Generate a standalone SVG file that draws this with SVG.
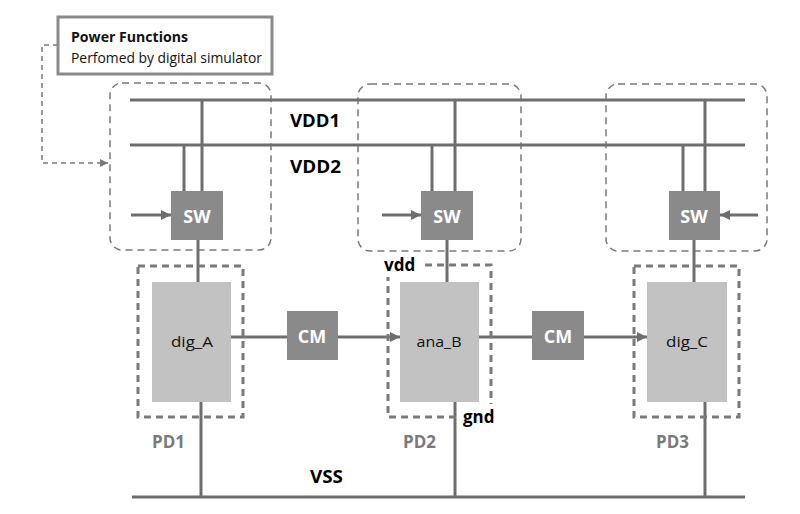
<svg xmlns="http://www.w3.org/2000/svg" width="800" height="514" viewBox="0 0 800 514">
<style>
  .wire{stroke:#6e6e6e;stroke-width:3;fill:none}
  .sig{stroke:#6e6e6e;stroke-width:3;fill:none}
  .dom{stroke:#7a7a7a;stroke-width:1.5;stroke-dasharray:7 5;fill:none}
  .pd{stroke:#7a7a7a;stroke-width:3;stroke-dasharray:7 5;fill:none}
  .ctl{fill:#8a8a8a}
  .blk{fill:#c2c2c2}
  .ctxt{font-family:"Open Sans","Liberation Sans",sans-serif;font-weight:bold;font-size:18px;fill:#ffffff;text-anchor:middle}
  .btxt{font-family:"Open Sans","Liberation Sans",sans-serif;font-size:15px;fill:#111;text-anchor:middle}
  .bus{font-family:"Open Sans","Liberation Sans",sans-serif;font-weight:bold;font-size:18px;fill:#000}
  .pdl{font-family:"Open Sans","Liberation Sans",sans-serif;font-weight:bold;font-size:17px;fill:#7a7a7a}
  .pin{font-family:"Open Sans","Liberation Sans",sans-serif;font-weight:bold;font-size:17px;fill:#000}
</style>
<defs>
  <marker id="arr" viewBox="0 0 10 10" refX="10" refY="5" markerWidth="10" markerHeight="10" markerUnits="userSpaceOnUse" orient="auto">
    <path d="M0,0 L10,5 L0,10 z" fill="#6e6e6e"/>
  </marker>
  <marker id="arrs" viewBox="0 0 10 10" refX="10" refY="5" markerWidth="8" markerHeight="8" markerUnits="userSpaceOnUse" orient="auto">
    <path d="M0,0 L10,5 L0,10 z" fill="#7a7a7a"/>
  </marker>
</defs>
<rect width="800" height="514" fill="#ffffff"/>

<g id="domains">
  <rect id="dom1" class="dom" x="110" y="83" width="161" height="167" rx="12"/>
  <rect id="dom2" class="dom" x="358" y="84" width="163" height="167" rx="12"/>
  <rect id="dom3" class="dom" x="606" y="84" width="161" height="167" rx="12"/>
</g>

<g id="connectors">
  <line class="wire" x1="130" y1="100" x2="745" y2="100"/>
  <line class="wire" x1="130" y1="145" x2="745" y2="145"/>
  <line class="wire" x1="132" y1="497" x2="745" y2="497"/>
  <line class="wire" x1="202" y1="100" x2="202" y2="191"/>
  <line class="wire" x1="184" y1="145" x2="184" y2="191"/>
  <line class="wire" x1="198" y1="240" x2="198" y2="282"/>
  <line class="wire" x1="455" y1="100" x2="455" y2="191"/>
  <line class="wire" x1="432" y1="145" x2="432" y2="191"/>
  <line class="wire" x1="447" y1="240" x2="447" y2="282"/>
  <line class="wire" x1="705" y1="100" x2="705" y2="191"/>
  <line class="wire" x1="683" y1="145" x2="683" y2="191"/>
  <line class="wire" x1="694" y1="240" x2="694" y2="282"/>
  <line class="wire" x1="201" y1="402" x2="201" y2="497"/>
  <line class="wire" x1="455" y1="402" x2="455" y2="497"/>
  <line class="wire" x1="705" y1="402" x2="705" y2="497"/>
  <line class="sig" x1="131" y1="215" x2="171" y2="215" marker-end="url(#arr)"/>
  <line class="sig" x1="382" y1="215" x2="421" y2="215" marker-end="url(#arr)"/>
  <line class="sig" x1="758" y1="215" x2="720" y2="215" marker-end="url(#arr)"/>
  <line class="sig" x1="231" y1="337" x2="287" y2="337"/>
  <line class="sig" x1="338" y1="337" x2="400" y2="337" marker-end="url(#arr)"/>
  <line class="sig" x1="479" y1="337" x2="532" y2="337"/>
  <line class="sig" x1="584" y1="337" x2="647" y2="337" marker-end="url(#arr)"/>
  <path d="M58,45 H42 V163 H108" fill="none" stroke="#7a7a7a" stroke-width="1.5" stroke-dasharray="5 4" marker-end="url(#arrs)"/>
</g>

<g id="power-functions">
  <rect x="58" y="17" width="214" height="57" fill="#ffffff" stroke="#8a8a8a" stroke-width="3"/>
  <text x="71" y="42" font-family="Open Sans, Liberation Sans, sans-serif" font-weight="bold" font-size="14.5" fill="#111" textLength="117" lengthAdjust="spacingAndGlyphs">Power Functions</text>
  <text x="71" y="63" font-family="Open Sans, Liberation Sans, sans-serif" font-size="14.5" fill="#111" textLength="191" lengthAdjust="spacingAndGlyphs">Perfomed by digital simulator</text>
</g>

<g id="sw1"><rect class="ctl" x="171" y="191" width="52" height="49"/><text class="ctxt" x="197" y="223">SW</text></g>
<g id="sw2"><rect class="ctl" x="421" y="191" width="52" height="49"/><text class="ctxt" x="447" y="223">SW</text></g>
<g id="sw3"><rect class="ctl" x="669" y="191" width="51" height="49"/><text class="ctxt" x="694" y="223">SW</text></g>

<g id="pd1">
  <rect class="pd" x="138" y="266" width="105" height="151"/>
  <text class="pdl" x="152" y="448">PD1</text>
</g>
<g id="pd2">
  <path class="pd" d="M425,265 H491 V404 M456,417 H388 V277"/>
  <text class="pdl" x="403" y="448">PD2</text>
  <text class="pin" x="384" y="271">vdd</text>
  <text class="pin" x="463" y="423">gnd</text>
</g>
<g id="pd3">
  <rect class="pd" x="634" y="266" width="105" height="151"/>
  <text class="pdl" x="656" y="448">PD3</text>
</g>

<g id="dig_A"><rect class="blk" x="152" y="282" width="79" height="120"/><text class="btxt" x="192" y="347" textLength="42" lengthAdjust="spacingAndGlyphs">dig_A</text></g>
<g id="ana_B"><rect class="blk" x="400" y="282" width="79" height="120"/><text class="btxt" x="439" y="347" textLength="45" lengthAdjust="spacingAndGlyphs">ana_B</text></g>
<g id="dig_C"><rect class="blk" x="647" y="282" width="80" height="120"/><text class="btxt" x="687" y="347" textLength="42" lengthAdjust="spacingAndGlyphs">dig_C</text></g>

<g id="cm1"><rect class="ctl" x="287" y="311" width="51" height="49"/><text class="ctxt" x="312" y="343">CM</text></g>
<g id="cm2"><rect class="ctl" x="532" y="311" width="52" height="49"/><text class="ctxt" x="558" y="343">CM</text></g>

<g id="bus-labels">
  <text class="bus" x="290" y="127" textLength="50" lengthAdjust="spacingAndGlyphs">VDD1</text>
  <text class="bus" x="290" y="173" textLength="51" lengthAdjust="spacingAndGlyphs">VDD2</text>
  <text class="bus" x="310" y="483" textLength="33" lengthAdjust="spacingAndGlyphs">VSS</text>
</g>
</svg>
